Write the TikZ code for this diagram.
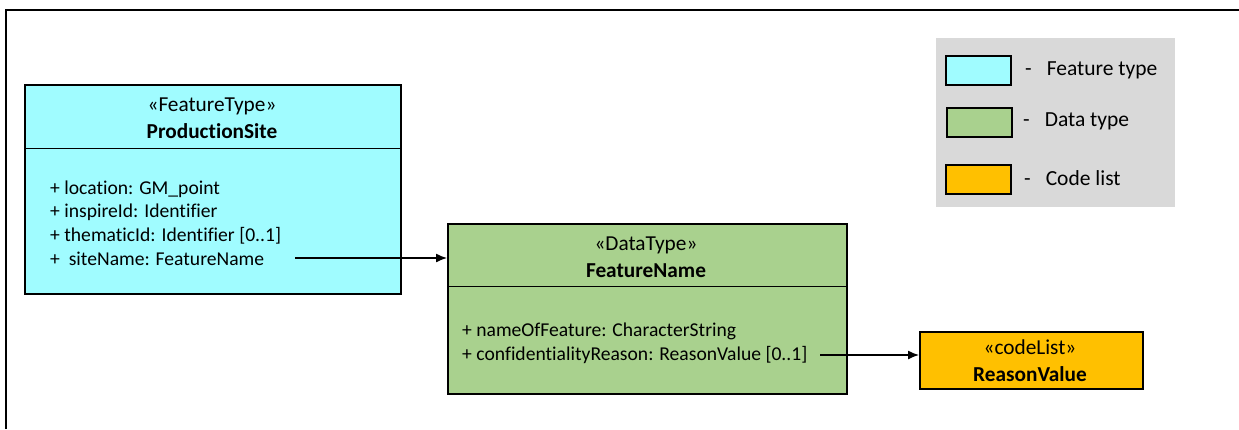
\documentclass[tikz,border=0pt]{standalone}
\usepackage{fontspec}
\setmainfont[Ligatures=NoCommon]{Carlito}
\usetikzlibrary{arrows.meta}
\definecolor{ftcyan}{HTML}{A0FCFF}
\definecolor{dtgreen}{HTML}{A9D18E}
\definecolor{clorange}{HTML}{FFC000}
\definecolor{leggray}{HTML}{D9D9D9}
\tikzset{
  umlbox/.style={draw=black, line width=1.6pt, anchor=north west, inner sep=0pt},
  boxtitle/.style={align=center, inner sep=0pt, font=\fontsize{21.3}{27}\selectfont},
  attrs/.style={align=left, anchor=west, inner sep=0pt, font=\fontsize{19.6}{23.7}\selectfont},
  assoc/.style={-{Latex[length=11pt,width=9pt]}, line width=1.3pt},
  swatch/.style={draw=black, line width=1.6pt, anchor=north west, inner sep=0pt,
    minimum width=65, minimum height=29},
  legtext/.style={anchor=west, inner sep=0pt, font=\fontsize{21.5}{24}\selectfont}
}
\begin{document}
\begin{tikzpicture}[x=1pt, y=-1pt]
\useasboundingbox (0,0) rectangle (1239,429);
%frame
\draw[line width=2pt] (6,429) -- (6,10) -- (1239,10);
%legend
\fill[leggray] (936,38) rectangle (1175,207);
\node[swatch, fill=ftcyan] (legft) at (945,55) {};
\node[swatch, fill=dtgreen] (legdt) at (946,107) {};
\node[swatch, fill=clorange] (legcl) at (945,164) {};
\node[legtext] (legfttext) at (1025,70) {-\hspace{15pt}Feature type};
\node[legtext] (legdttext) at (1023,121) {-\hspace{15pt}Data type};
\node[legtext] (legcltext) at (1024,178) {-\hspace{15pt}Code list};
%feature type
\node[umlbox, fill=ftcyan, minimum width=376, minimum height=209] (site) at (24,84) {};
\draw[line width=0.8pt] (site.west |- 0,148) -- (site.east |- 0,148);
\node[boxtitle] (sitetitle) at (212,118) {«FeatureType»\\\textbf{ProductionSite}};
\node[attrs] (siteattrs) at (50,223) {+ location: GM\_point\\+ inspireId: Identifier\\+ thematicId: Identifier [0..1]\\+\ \ siteName: FeatureName};
%data type
\node[umlbox, fill=dtgreen, minimum width=399, minimum height=170] (name) at (447,223) {};
\draw[line width=0.8pt] (name.west |- 0,286) -- (name.east |- 0,286);
\node[boxtitle] (nametitle) at (646,257) {«DataType»\\\textbf{FeatureName}};
\node[attrs] (nameattrs) at (462,343) {+ nameOfFeature: CharacterString\\+ confidentialityReason: ReasonValue [0..1]};
%code list
\node[umlbox, fill=clorange, minimum width=223, minimum height=57] (reason) at (919,331) {};
\node[boxtitle] (reasontitle) at (1030,361) {«codeList»\\\textbf{ReasonValue}};
%associations
\coordinate (sn) at (295,258);
\draw[assoc] (sn) -- (sn -| name.west);
\coordinate (cr) at (820,355);
\draw[assoc] (cr) -- (cr -| reason.west);
\end{tikzpicture}
\end{document}
